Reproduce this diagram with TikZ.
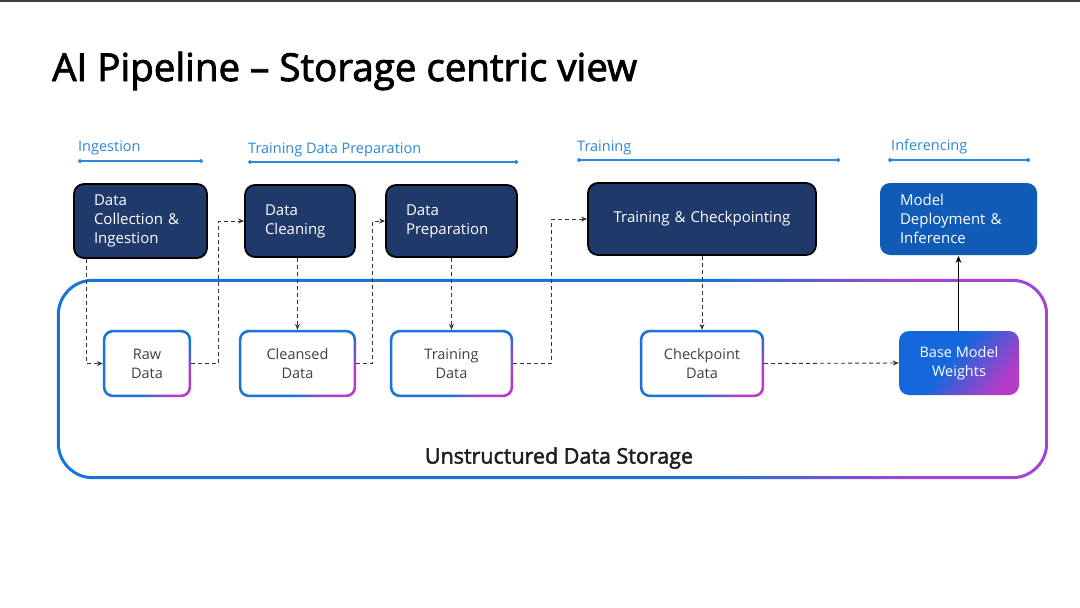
\documentclass[tikz,border=0pt]{standalone}
\usepackage{fontspec}
\setmainfont{Open Sans}
\newfontfamily\semib{Open Sans}[FakeBold=2.2]
\usetikzlibrary{arrows.meta,calc}
\definecolor{navy}{HTML}{1F3A6A}
\definecolor{deploy}{HTML}{0F5BB5}
\definecolor{sblue}{HTML}{1874D6}
\definecolor{spurp}{HTML}{A444D4}
\definecolor{smag}{HTML}{B43CC8}
\definecolor{bmwblue}{HTML}{1468DC}
\definecolor{phase}{HTML}{2F87D8}
\definecolor{conn}{HTML}{333333}
\definecolor{stext}{HTML}{404040}
\definecolor{topbar}{HTML}{3C4048}
\pgfdeclarehorizontalshading{ringH}{100bp}{color(0bp)=(sblue); color(25bp)=(sblue); color(58bp)=(sblue); color(68bp)=(spurp); color(100bp)=(spurp)}
\pgfdeclarehorizontalshading{ringS}{100bp}{color(0bp)=(sblue); color(25bp)=(sblue); color(60bp)=(sblue); color(75bp)=(smag); color(100bp)=(smag)}
\pgfdeclarehorizontalshading{bmwS}{100bp}{color(0bp)=(bmwblue); color(25bp)=(bmwblue); color(45bp)=(bmwblue); color(75bp)=(smag); color(100bp)=(smag)}
\newcommand\gradring[5]{%
  \shade[shading=#4, shading angle=#5, even odd rule]
    [rounded corners=#2] (#1.north west) rectangle (#1.south east)
    [rounded corners=#2-#3] ([shift={(#3,-#3)}]#1.north west) rectangle ([shift={(-#3,#3)}]#1.south east);}
\tikzset{
  darkbox/.style={fill=navy, draw=black, line width=1.8pt, rounded corners=10pt,
    text=white, align=left, inner xsep=20pt, font=\fontsize{15}{19}\selectfont},
  smallbox/.style={rounded corners=10pt, text=stext, align=center,
    font=\fontsize{14.5}{19}\selectfont},
  dflow/.style={draw=conn, line width=0.9pt, dash pattern=on 4pt off 3pt,
    -{Stealth[length=6pt,width=5pt]}},
  sflow/.style={draw=black, line width=1.1pt, -{Stealth[length=7pt,width=6pt]}},
  phaseline/.style={draw=phase, line width=1.2pt, {Circle[length=4pt]}-{Circle[length=4pt]}},
  phaselabel/.style={text=phase, anchor=base west, inner sep=0pt, font=\fontsize{14.5}{17}\selectfont},
}
\begin{document}
\begin{tikzpicture}[x=1pt,y=-1pt]
\useasboundingbox (0,0) rectangle (1080,608);
\fill[white] (0,0) rectangle (1080,608);
\fill[topbar] (0,0) rectangle (1080,1.8);

% title
\node[anchor=base west, inner sep=0pt, font=\semib\fontsize{38.5}{46}\selectfont, text=black] (title) at (52,81) {AI Pipeline – Storage centric view};

% phases
\node[phaselabel] (pIng) at (78,151) {Ingestion};
\coordinate (pIngA) at (78,161); \coordinate (pIngB) at (203,161);
\draw[phaseline] (pIngA) -- (pIngB);
\node[phaselabel] (pTdp) at (248,153) {Training Data Preparation};
\coordinate (pTdpA) at (248,162); \coordinate (pTdpB) at (518,162);
\draw[phaseline] (pTdpA) -- (pTdpB);
\node[phaselabel] (pTr) at (577,151) {Training};
\coordinate (pTrA) at (577,160); \coordinate (pTrB) at (840,160);
\draw[phaseline] (pTrA) -- (pTrB);
\node[phaselabel] (pInf) at (891,150) {Inferencing};
\coordinate (pInfA) at (888,160); \coordinate (pInfB) at (1030,160);
\draw[phaseline] (pInfA) -- (pInfB);

% storage container
\node[minimum width=991pt, minimum height=200pt, inner sep=0pt] (storage) at (552.5,379) {};
\gradring{storage}{36pt}{3pt}{ringH}{0}
\node[font=\semib\fontsize{21.5}{26}\selectfont, text=black!88, inner sep=0pt] (storagelbl) at (559,458) {Unstructured Data Storage};

% dark boxes
\node[darkbox, minimum width=133pt, minimum height=74pt, text width=93pt] (b1) at (140.5,221) {Data\\Collection \&\\Ingestion};
\node[darkbox, minimum width=110pt, minimum height=72pt, text width=70pt] (b2) at (300,221) {Data\\Cleaning};
\node[darkbox, minimum width=131pt, minimum height=72pt, text width=91pt] (b3) at (451.5,221) {Data\\Preparation};
\node[darkbox, minimum width=228pt, minimum height=72pt, align=center, text width=188pt] (b4) at (702,219) {Training \& Checkpointing};
\node[darkbox, draw=none, fill=deploy, minimum width=157pt, minimum height=72pt, text width=117pt] (b5) at (958.5,219) {Model\\Deployment \&\\Inference};

% small boxes
\node[smallbox, minimum width=88pt, minimum height=67pt] (raw) at (147,363.5) {Raw\\Data};
\gradring{raw}{10pt}{2.6pt}{ringS}{-45}
\node[smallbox, minimum width=117pt, minimum height=67pt] (cleansed) at (297.5,363.5) {Cleansed\\Data};
\gradring{cleansed}{10pt}{2.6pt}{ringS}{-45}
\node[smallbox, minimum width=123pt, minimum height=67pt] (training) at (451.5,363.5) {Training\\Data};
\gradring{training}{10pt}{2.6pt}{ringS}{-45}
\node[smallbox, minimum width=124pt, minimum height=67pt] (ckpt) at (702,363.5) {Checkpoint\\Data};
\gradring{ckpt}{10pt}{2.6pt}{ringS}{-45}
\node[smallbox, shading=bmwS, shading angle=-40, text=white, minimum width=120pt, minimum height=64pt] (bmw) at (959,363) {Base Model\\Weights};

% connectors
\draw[dflow] ([xshift=13pt]b1.south west) |- (raw.west);
\draw[dflow] (raw.east) -- ++(27pt,0) |- (b2.west);
\draw[dflow] (b2.south -| cleansed.north) -- (cleansed.north);
\draw[dflow] (cleansed.east) -- ++(16pt,0) |- (b3.west);
\draw[dflow] (b3.south) -- (training.north);
\draw[dflow] (training.east) -- ++(38pt,0) |- (b4.west);
\draw[dflow] (b4.south) -- (ckpt.north);
\draw[dflow] (ckpt.east) -- (bmw.west);
\draw[sflow] (bmw.north -| b5.south) -- (b5.south);
\end{tikzpicture}
\end{document}
